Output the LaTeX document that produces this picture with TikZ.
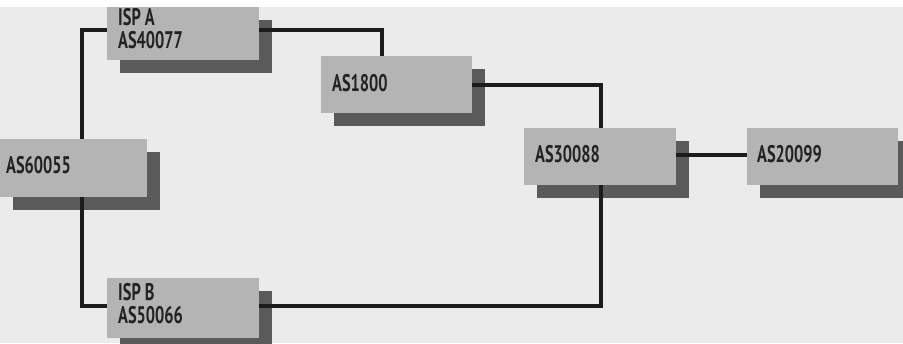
\documentclass[tikz,border=0pt]{standalone}
\usepackage{fontspec}
\setmainfont{PT Sans}[FakeStretch=0.72, BoldFeatures={FakeStretch=0.68}]
\begin{document}
\begin{tikzpicture}[x=1pt,y=-1pt,
  box/.style={draw=none, fill=boxgray, inner sep=0pt, anchor=north west},
  lbl/.style={inner sep=0pt, anchor=base west, font=\fontsize{24}{23}\selectfont\bfseries, text=textblack, align=left},
  link/.style={draw=linkblack, line width=3.8pt}
]
\definecolor{pagebg}{HTML}{EBEBEB}
\definecolor{boxgray}{HTML}{B4B4B4}
\definecolor{shadowgray}{HTML}{5A5A5A}
\definecolor{linkblack}{HTML}{1C1C1C}
\definecolor{textblack}{HTML}{222222}
\useasboundingbox (0,0) rectangle (903,343);
\fill[pagebg] (0,0) rectangle (903,343);
% shadows
\fill[shadowgray] (120,20) rectangle ++(152,53);
\fill[shadowgray] (334,69) rectangle ++(151,57);
\fill[shadowgray] (13,152) rectangle ++(147,58);
\fill[shadowgray] (537,141) rectangle ++(152,57);
\fill[shadowgray] (760,141) rectangle ++(151,57);
\fill[shadowgray] (120,291) rectangle ++(152,60);
% boxes
\node[box, minimum width=152pt, minimum height=53pt] (ispa) at (107,7) {};
\node[box, minimum width=151pt, minimum height=57pt] (as1800) at (321,56) {};
\node[box, minimum width=147pt, minimum height=58pt] (as60055) at (0,139) {};
\node[box, minimum width=152pt, minimum height=57pt] (as30088) at (524,128) {};
\node[box, minimum width=151pt, minimum height=57pt] (as20099) at (747,128) {};
\node[box, minimum width=152pt, minimum height=60pt] (ispb) at (107,278) {};
% links
\draw[link] ([yshift=3.5pt]ispa.west) -| ([xshift=8.5pt]as60055.north);
\draw[link] ([yshift=3.5pt]ispa.east) -| ([xshift=-14.5pt]as1800.north);
\draw[link] (as1800.east) -| ([xshift=1pt]as30088.north);
\draw[link] ([yshift=1.5pt]as30088.east) -- ([yshift=1.5pt]as20099.west);
\draw[link] ([xshift=8.5pt]as60055.south) |- ([yshift=2pt]ispb.west);
\draw[link] ([xshift=1pt]as30088.south) |- ([yshift=2pt]ispb.east);
% labels
\node[lbl] (ispat) at (118,48) {ISP A\\AS40077};
\node[lbl] (as1800t) at (332,91) {AS1800};
\node[lbl] (as60055t) at (6,173) {AS60055};
\node[lbl] (as30088t) at (535,162) {AS30088};
\node[lbl] (as20099t) at (757,162) {AS20099};
\node[lbl] (ispbt) at (118,323) {ISP B\\AS50066};
% top white strip
\fill[white] (0,0) rectangle (903,7);
\end{tikzpicture}
\end{document}
